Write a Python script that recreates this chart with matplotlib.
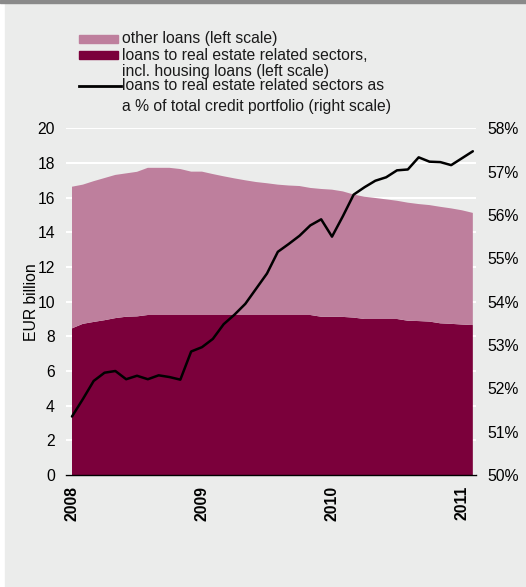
import matplotlib.pyplot as plt
import matplotlib.patches as mpatches
from matplotlib.lines import Line2D
import numpy as np

plt.rcParams['font.family'] = ['Liberation Sans', 'DejaVu Sans']

# monthly observations, Jan 2008 - Feb 2011
real_estate_loans = [8.46, 8.72, 8.83, 8.93, 9.05, 9.13, 9.15, 9.23, 9.23, 9.23,
                     9.23, 9.23, 9.23, 9.23, 9.23, 9.23, 9.23, 9.23, 9.23, 9.23,
                     9.23, 9.23, 9.23, 9.13, 9.13, 9.12, 9.08, 9.00, 9.00, 9.00,
                     9.00, 8.90, 8.88, 8.85, 8.75, 8.72, 8.68, 8.65]
other_loans = [8.17, 8.03, 8.12, 8.20, 8.26, 8.27, 8.34, 8.49, 8.49, 8.49,
               8.42, 8.27, 8.27, 8.13, 8.00, 7.88, 7.77, 7.67, 7.60, 7.52,
               7.47, 7.44, 7.33, 7.37, 7.33, 7.24, 7.10, 7.05, 6.98, 6.90,
               6.82, 6.81, 6.75, 6.72, 6.72, 6.66, 6.59, 6.47]
share_pct = [51.35, 51.75, 52.17, 52.36, 52.40, 52.21, 52.29, 52.21, 52.30, 52.26,
             52.20, 52.85, 52.95, 53.14, 53.48, 53.70, 53.95, 54.30, 54.65, 55.15,
             55.33, 55.52, 55.76, 55.90, 55.50, 55.97, 56.47, 56.64, 56.79, 56.87,
             57.03, 57.05, 57.33, 57.23, 57.22, 57.15, 57.31, 57.47]
year_ticks = [2008, 2009, 2010, 2011]

t = 2008 + np.arange(len(share_pct)) / 12.0
c_other = '#be7f9d'
c_re = '#7b003b'
fs = 11.3

fig = plt.figure(figsize=(5.26, 5.87), dpi=100, facecolor='white')
# grey panel and top bar
fig.patches.append(mpatches.Rectangle((5 / 526, 0.0), 1, 1 - 3 / 587, transform=fig.transFigure,
                                      color='#ebeceb', zorder=-10))
fig.patches.append(mpatches.Rectangle((0, 1 - 3 / 587), 1, 3 / 587, transform=fig.transFigure,
                                      color='#8a8a8a', zorder=-10))

ax = fig.add_axes([66 / 526, 1 - 475 / 587, 410 / 526, 346.7 / 587])
ax.set_facecolor('none')
ax.stackplot(t, real_estate_loans, other_loans, colors=[c_re, c_other], linewidth=0, zorder=2)
ax.set_xlim(2008 - 6 / 130, 2008 + 404 / 130)
ax.set_ylim(0, 20)
ax.set_yticks(np.arange(0, 21, 2))
ax.grid(axis='y', color='white', linewidth=1.5, zorder=0)
ax.set_axisbelow(True)
ax.set_xticks(year_ticks)
ax.set_xticklabels([str(y) for y in year_ticks], rotation=90, fontweight='bold', fontsize=fs)
ax.tick_params(axis='x', length=0, pad=8)
ax.tick_params(axis='y', length=0, pad=8, labelsize=fs)
ax.set_ylabel('EUR billion', fontsize=fs, labelpad=-1)
for s in ['top', 'right', 'left']:
    ax.spines[s].set_visible(False)
ax.spines['bottom'].set_color('black')
ax.spines['bottom'].set_linewidth(1.0)
ax.spines['bottom'].set_zorder(5)

ax2 = ax.twinx()
ax2.plot(t, share_pct, color='black', linewidth=1.8, zorder=3,
         solid_joinstyle='round', solid_capstyle='round')
ax2.set_ylim(50, 58)
ax2.set_yticks(np.arange(50, 59, 1))
ax2.set_yticklabels([f'{v}%' for v in range(50, 59)])
ax2.tick_params(axis='y', length=0, pad=8, labelsize=fs)
for s in ax2.spines.values():
    s.set_visible(False)

# legend drawn by hand
W, H = 526, 587
def fx(x):
    return x / W
def fy(y):
    return 1 - y / H

fig.patches.append(mpatches.Rectangle((fx(79), fy(42.7)), fx(38.7), 7.7 / H,
                                      transform=fig.transFigure, color=c_other))
fig.patches.append(mpatches.Rectangle((fx(79), fy(58.7)), fx(38.7), 7.7 / H,
                                      transform=fig.transFigure, color=c_re))
fig.lines.append(Line2D([fx(79), fx(121)], [fy(85.7), fy(85.7)], transform=fig.transFigure,
                        color='black', linewidth=2.0))
legend_text = [(39, 'other loans (left scale)'),
               (55.7, 'loans to real estate related sectors,'),
               (71.7, 'incl. housing loans (left scale)'),
               (86, 'loans to real estate related sectors as'),
               (106, 'a % of total credit portfolio (right scale)')]
for yy, txt in legend_text:
    fig.text(fx(122), fy(yy), txt, fontsize=fs, va='center', ha='left', color='#1a1a1a')

fig.savefig('out.png', dpi=100, facecolor=fig.get_facecolor())
